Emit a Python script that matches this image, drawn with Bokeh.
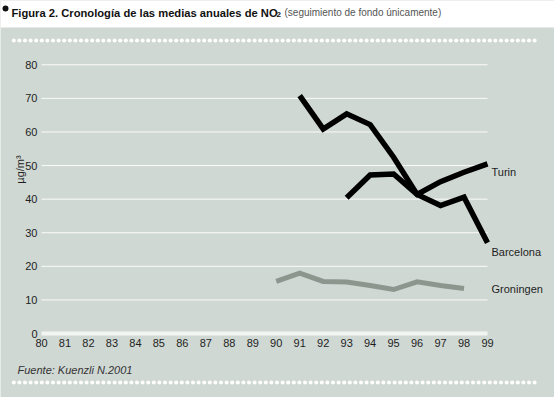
import numpy as np
from bokeh.plotting import figure
from bokeh.models import Range1d, FixedTicker, Label
from bokeh.embed import file_html
from bokeh.resources import INLINE

# ---- data ----
years_barcelona = [91, 92, 93, 94, 95, 96, 97, 98, 99]
barcelona = [70.8, 60.9, 65.4, 62.2, 52.5, 41.4, 38.1, 40.6, 27.0]
years_turin = [93, 94, 95, 96, 97, 98, 99]
turin = [40.4, 47.2, 47.5, 41.4, 45.2, 48.0, 50.5]
years_groningen = [90, 91, 92, 93, 94, 95, 96, 97, 98]
groningen = [15.5, 18.0, 15.5, 15.3, 14.3, 13.1, 15.4, 14.3, 13.4]
series_names = ["Turin", "Barcelona", "Groningen"]
x_ticks = list(range(80, 100))
y_ticks = list(range(0, 90, 10))

# ---- page geometry (pixels) ----
W, H = 554, 397
BG = "#d0d8d3"
TXT = "#1e1e1e"
FONT = "Liberation Sans"
PX_X80, PX_X99 = 41.0, 487.0
PX_Y0, PX_Y80 = 333.0, 64.3
XS = (PX_X99 - PX_X80) / (x_ticks[-1] - x_ticks[0])
YS = (PX_Y0 - PX_Y80) / (y_ticks[-1] - y_ticks[0])
x_start = x_ticks[0] - PX_X80 / XS
x_end = x_ticks[-1] + (W - PX_X99) / XS
y_start = y_ticks[0] - (H - PX_Y0) / YS
y_end = y_ticks[-1] + PX_Y80 / YS


def px2x(px):
    return x_start + px / XS


def px2y(py):
    return y_end - py / YS


p = figure(width=W, height=H, x_range=Range1d(x_start, x_end), y_range=Range1d(y_start, y_end),
           toolbar_location=None, output_backend="svg", min_border=0,
           background_fill_color=BG, border_fill_color=BG, outline_line_color=None)
p.grid.visible = False

# white banner behind the title
p.quad(left=x_start, right=x_end, top=y_end, bottom=px2y(27), fill_color="white", line_color=None)
p.scatter([px2x(5)], [px2y(8)], size=6, color="#111111", line_color=None)

# dotted rules
dots_px = np.arange(13.3, 535, 5.6)
for row in (40, 382):
    p.scatter(px2x(dots_px), np.full(len(dots_px), px2y(row)), size=4, color="white", line_color=None)

# gridlines (only across the year span)
gy = y_ticks[1:]
p.segment(x0=[x_ticks[0]] * len(gy), x1=[x_ticks[-1]] * len(gy), y0=gy, y1=gy,
          line_color="white", line_width=1, line_alpha=0.9)

# axes pinned inside the canvas
p.xaxis.fixed_location = 0
p.xaxis.bounds = (x_ticks[0], x_ticks[-1])
p.xaxis.ticker = FixedTicker(ticks=x_ticks)
p.xaxis.axis_line_color = "#f3f5f3"
p.xaxis.axis_line_width = 4
p.xaxis.major_tick_line_color = None
p.xaxis.minor_tick_line_color = None
p.xaxis.major_tick_out = 0
p.xaxis.major_tick_in = 0
p.xaxis.minor_tick_out = 0
p.xaxis.major_label_standoff = 5
p.xaxis.major_label_text_font = FONT
p.xaxis.major_label_text_font_size = "11px"
p.xaxis.major_label_text_color = TXT

p.yaxis.fixed_location = x_ticks[0]
p.yaxis.bounds = (y_ticks[0], y_ticks[-1])
p.yaxis.ticker = FixedTicker(ticks=y_ticks)
p.yaxis.axis_line_color = None
p.yaxis.major_tick_line_color = None
p.yaxis.minor_tick_line_color = None
p.yaxis.major_tick_out = 0
p.yaxis.major_tick_in = 0
p.yaxis.minor_tick_out = 0
p.yaxis.major_label_standoff = 4
p.yaxis.major_label_text_font = FONT
p.yaxis.major_label_text_font_size = "11px"
p.yaxis.major_label_text_color = TXT

# series
p.line(years_groningen, groningen, line_width=5, color="#8c968e", line_join="miter")
p.line(years_barcelona, barcelona, line_width=5.5, color="black", line_join="miter")
p.line(years_turin, turin, line_width=5.5, color="black", line_join="miter")

label_py = [171, 251, 288]
for name, py in zip(series_names, label_py):
    p.add_layout(Label(x=px2x(491), y=px2y(py), text=name, text_font=FONT, text_font_size="11px",
                       text_color=TXT, text_baseline="middle"))

# title
p.add_layout(Label(x=px2x(11), y=px2y(12), text="Figura 2. Cronología de las medias anuales de NO",
                   text_font=FONT, text_font_style="bold", text_font_size="11.2px",
                   text_color="#111111", text_baseline="alphabetic"))
p.add_layout(Label(x=px2x(276), y=px2y(14), text="2", text_font=FONT, text_font_style="bold",
                   text_font_size="8px", text_color="#111111", text_baseline="alphabetic"))
p.add_layout(Label(x=px2x(284), y=px2y(12), text="(seguimiento de fondo únicamente)",
                   text_font=FONT, text_font_size="10px", text_color="#555555",
                   text_baseline="alphabetic"))

# y-axis unit and source note
p.add_layout(Label(x=px2x(19), y=px2y(169), text="µg/m³", angle=np.pi / 2,
                   text_font=FONT, text_font_size="11px", text_color=TXT,
                   text_align="center", text_baseline="middle"))
p.add_layout(Label(x=px2x(17), y=px2y(369), text="Fuente: Kuenzli N.2001",
                   text_font=FONT, text_font_style="italic", text_font_size="11px",
                   text_color="#333333", text_baseline="middle"))

open("out.html", "w").write(file_html(p, INLINE))
